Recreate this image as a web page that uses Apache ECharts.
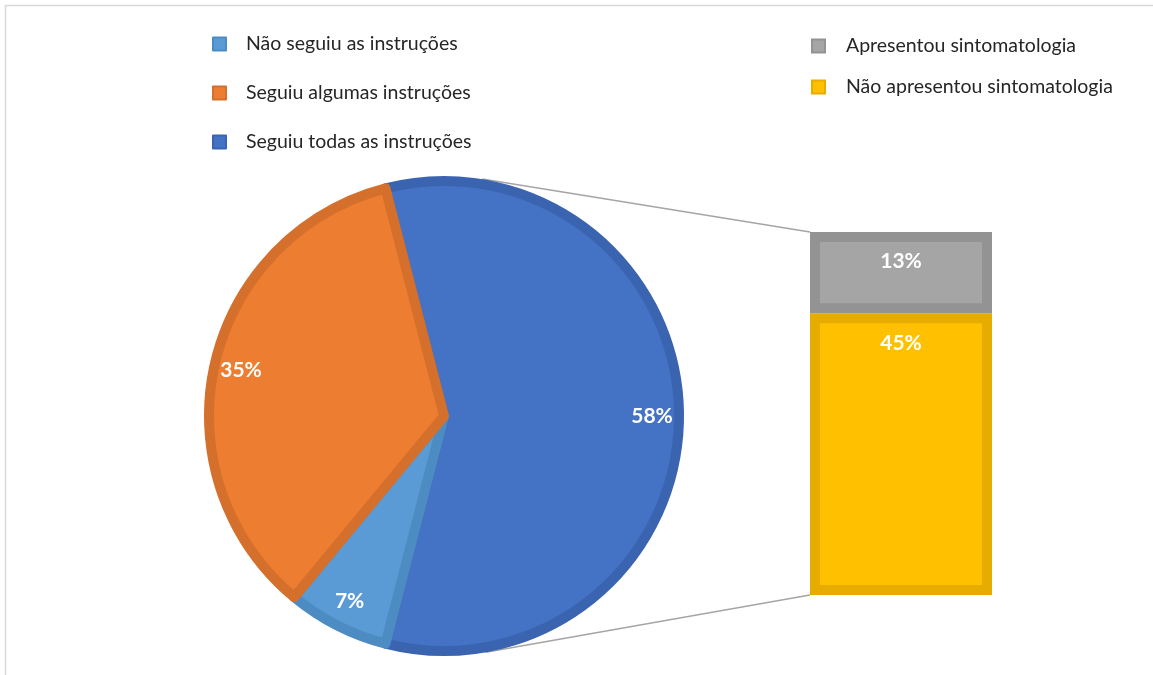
<!DOCTYPE html>
<html>
<head>
<meta charset="utf-8">
<script src="https://cdn.jsdelivr.net/npm/echarts@6/dist/echarts.min.js"></script>
<style>
html, body { margin: 0; padding: 0; background: #fff; }
#main { width: 1153px; height: 675px; }
</style>
</head>
<body>
<div id="main"></div>
<script>
// dados do gráfico
var pieNames = ['Seguiu todas as instruções', 'Não seguiu as instruções', 'Seguiu algumas instruções'];
var pieValues = [58, 7, 35];
var pieColors = ['#4472C4', '#5B9BD5', '#ED7D31'];
var pieBorders = ['#3A64B0', '#4D8CC2', '#D5702C'];

var barNames = ['Não apresentou sintomatologia', 'Apresentou sintomatologia'];
var barValues = [45, 13];
var barColors = ['#FFC000', '#A5A5A5'];
var barBorders = ['#E6AD00', '#939393'];

var legendLeft = ['Não seguiu as instruções', 'Seguiu algumas instruções', 'Seguiu todas as instruções'];
var legendRight = ['Apresentou sintomatologia', 'Não apresentou sintomatologia'];

var FONT = 'Lato';
var pieCenter = [444, 416];
var pieR = 235;
var border = 10;
var total = pieValues.reduce(function (a, b) { return a + b; }, 0);
var startAngle = pieValues[0] / total * 360 / 2;
var barTotal = barValues.reduce(function (a, b) { return a + b; }, 0);

var chart = echarts.init(document.getElementById('main'));

var pieData = pieNames.map(function (n, i) {
    return {
        name: n,
        value: pieValues[i],
        itemStyle: { color: pieColors[i], borderColor: pieBorders[i], borderWidth: border }
    };
});
var labelData = pieNames.map(function (n, i) {
    return { name: n, value: pieValues[i] };
});

function legendItems(names) {
    return names.map(function (n) {
        var i = pieNames.indexOf(n), fill, bd;
        if (i >= 0) { fill = pieColors[i]; bd = pieBorders[i]; }
        else { i = barNames.indexOf(n); fill = barColors[i]; bd = barBorders[i]; }
        return { name: n, icon: 'rect', itemStyle: { color: fill, borderColor: bd, borderWidth: 2 } };
    });
}

var labelStyle = {
    show: true,
    formatter: '{c}%',
    color: '#fff',
    fontFamily: FONT,
    fontWeight: 'bold',
    fontSize: 21
};

var option = {
    animation: false,
    textStyle: { fontFamily: FONT },
    legend: [
        {
            orient: 'vertical',
            left: 207, top: 29,
            itemWidth: 13, itemHeight: 13,
            itemGap: 29,
            selectedMode: false,
            data: legendItems(legendLeft),
            textStyle: { fontFamily: FONT, fontSize: 19.5, color: '#262626', lineHeight: 20, padding: [0, 0, 0, 15] }
        },
        {
            orient: 'vertical',
            left: 806, top: 31,
            itemWidth: 13, itemHeight: 13,
            itemGap: 21,
            selectedMode: false,
            data: legendItems(legendRight),
            textStyle: { fontFamily: FONT, fontSize: 19.5, color: '#262626', lineHeight: 20, padding: [0, 0, 0, 16] }
        }
    ],
    grid: { left: 810, top: 232, width: 182, height: 363 },
    xAxis: { type: 'category', data: [''], show: false },
    yAxis: { type: 'value', min: 0, max: barTotal, show: false },
    series: [
        {
            name: 'Participantes',
            type: 'pie',
            center: pieCenter,
            radius: [0, pieR],
            startAngle: startAngle,
            clockwise: true,
            silent: true,
            z: 3,
            label: { show: false },
            labelLine: { show: false },
            data: pieData
        },
        {
            // anel transparente só para posicionar os rótulos perto da borda
            name: 'rotulos',
            type: 'pie',
            center: pieCenter,
            radius: [170, pieR + 5],
            startAngle: startAngle,
            clockwise: true,
            silent: true,
            z: 4,
            itemStyle: { color: 'rgba(0,0,0,0)' },
            label: Object.assign({ position: 'inside' }, labelStyle),
            labelLine: { show: false },
            data: labelData
        }
    ].concat(barNames.map(function (n, i) {
        return {
            name: n,
            type: 'bar',
            stack: 'total',
            barWidth: '100%',
            silent: true,
            itemStyle: { color: barColors[i], borderColor: barBorders[i], borderWidth: border },
            label: Object.assign({ position: 'insideTop', distance: 19 }, labelStyle),
            data: [barValues[i]]
        };
    }))
};

chart.setOption(option);

// linhas de ligação: tangentes ao círculo a partir dos cantos da barra
var R = pieR + border / 2;
function tangent(P, upper) {
    var dx = P[0] - pieCenter[0], dy = P[1] - pieCenter[1];
    var d = Math.sqrt(dx * dx + dy * dy);
    var base = Math.atan2(dy, dx);
    var th = Math.acos(R / d);
    var t1 = [pieCenter[0] + R * Math.cos(base + th), pieCenter[1] + R * Math.sin(base + th)];
    var t2 = [pieCenter[0] + R * Math.cos(base - th), pieCenter[1] + R * Math.sin(base - th)];
    if (upper) return t1[1] < t2[1] ? t1 : t2;
    return t1[1] > t2[1] ? t1 : t2;
}
var xy0 = chart.convertToPixel({ gridIndex: 0 }, [0, barTotal]);
var xy1 = chart.convertToPixel({ gridIndex: 0 }, [0, 0]);
var barW = 182;
var cTop = [xy0[0] - barW / 2, xy0[1]];
var cBot = [xy1[0] - barW / 2, xy1[1]];
var tTop = tangent(cTop, true);
var tBot = tangent(cBot, false);

chart.setOption({
    graphic: [
        {
            type: 'rect', silent: true, z: -1,
            shape: { x: 5.5, y: 5.5, width: 1200, height: 700 },
            style: { fill: null, stroke: '#D9D9D9', lineWidth: 1.5 }
        },
        {
            type: 'line', silent: true, z: 1,
            shape: { x1: tTop[0], y1: tTop[1], x2: cTop[0], y2: cTop[1] },
            style: { stroke: '#A5A5A5', lineWidth: 1.5 }
        },
        {
            type: 'line', silent: true, z: 1,
            shape: { x1: tBot[0], y1: tBot[1], x2: cBot[0], y2: cBot[1] },
            style: { stroke: '#A5A5A5', lineWidth: 1.5 }
        }
    ]
});
</script>
</body>
</html>
